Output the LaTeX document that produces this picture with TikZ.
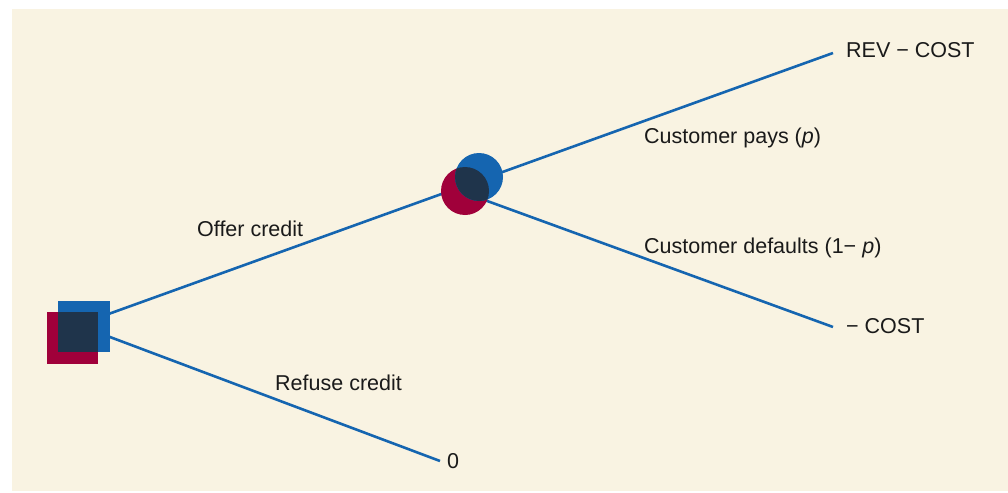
\documentclass[tikz,border=0pt]{standalone}
\usepackage{fontspec}
\setmainfont{Liberation Sans}
\definecolor{bgcol}{HTML}{F9F3E2}
\definecolor{linecol}{HTML}{1565B0}
\definecolor{redcol}{HTML}{A0003A}
\definecolor{bluecol}{HTML}{1565B0}
\definecolor{darkcol}{HTML}{1F344B}
\definecolor{txtcol}{HTML}{1A1A1A}
\begin{document}
\begin{tikzpicture}[x=1pt,y=-1pt,
  branch/.style={draw=linecol,line width=2.6pt},
  lab/.style={anchor=base west,inner sep=0pt,text=txtcol,font=\fontsize{21.5}{26}\selectfont}]
\useasboundingbox (0,0) rectangle (1008,492);
\fill[bgcol] (12,9) rectangle (1008,491);
% points
\coordinate (root) at (78,325);
\coordinate (chance) at (472,183);
\coordinate (chanceB) at (468,194);
\coordinate (endA) at (833,53);
\coordinate (endB) at (833,327);
\coordinate (endC) at (440,461);
% connectors
\draw[branch] (root) -- (chance);
\draw[branch] (chance) -- (endA);
\draw[branch] (chanceB) -- (endB);
\draw[branch] (root) -- (endC);
% decision node
\fill[redcol] (47,312) rectangle (98,364);
\fill[bluecol] (58,301) rectangle (110,352);
\fill[darkcol] (58,312) rectangle (98,352);
% chance node
\fill[redcol] (465,191) circle[radius=24];
\fill[bluecol] (479,177) circle[radius=24];
\begin{scope}
  \clip (465,191) circle[radius=24];
  \fill[darkcol] (479,177) circle[radius=24];
\end{scope}
% labels
\node[lab] (tA) at (846,58) {REV − COST};
\node[lab] (tB) at (846,333) {− COST};
\node[lab] (tC) at (447,468) {0};
\node[lab] (lpay) at (644,143) {Customer pays (\textit{p})};
\node[lab] (ldef) at (644,253) {Customer defaults (1− \textit{p})};
\node[lab] (loffer) at (197,236) {Offer credit};
\node[lab] (lref) at (275,390) {Refuse credit};
\end{tikzpicture}
\end{document}
